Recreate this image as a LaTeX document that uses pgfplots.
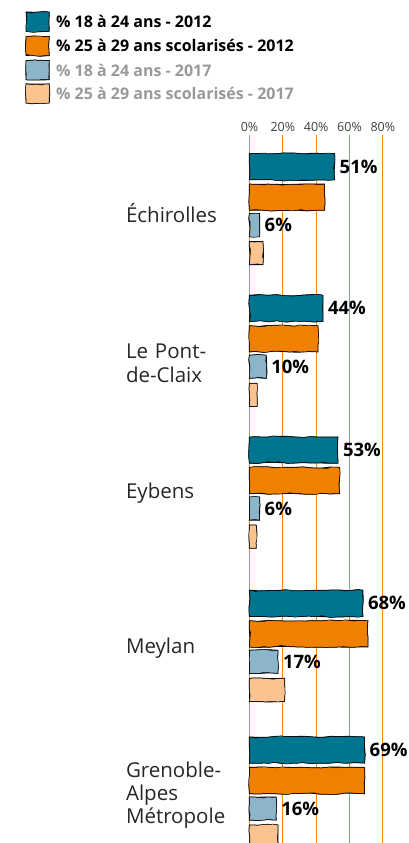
\documentclass[border=0pt]{standalone}
\usepackage{fontspec}
\setmainfont{Open Sans}
\usepackage{pgfplots}
\pgfplotsset{compat=1.18}
\usetikzlibrary{decorations.pathmorphing}

\definecolor{teal12}{HTML}{00758F}
\definecolor{orange12}{HTML}{F08000}
\definecolor{blue17}{HTML}{8DB5C9}
\definecolor{orange17}{HTML}{FBC48E}
\definecolor{gridor}{HTML}{F28A14}
\definecolor{legray}{HTML}{999999}

% hand-drawn look for the bars
\tikzset{
  sketch/.style={draw=black, line width=1pt,
    decoration={random steps, segment length=9pt, amplitude=0.7pt}, decorate,
    postaction={draw=black, line width=0.5pt, decorate,
      decoration={random steps, segment length=6pt, amplitude=0.9pt}}},
}

\begin{document}
\begin{tikzpicture}
\pgfmathsetseed{7}
\useasboundingbox (0,0) rectangle (408pt,-843pt);
\begin{axis}[
  at={(249.5pt,-135pt)}, anchor=north west,
  scale only axis, width=150pt, height=708pt,
  xmin=0, xmax=90, ymin=135, ymax=843, y dir=reverse,
  xbar, bar shift=0pt,
  clip=false,
  axis line style={draw=none}, tick style={draw=none},
  xmajorgrids, major grid style={gridor, line width=1.3pt},
  xtick={0,20,40,60,80}, xticklabels={0\%,20\%,40\%,60\%,80\%},
  xticklabel pos=upper,
  xticklabel style={font=\fontsize{12.5}{14}\selectfont, text=black!75},
  ytick={212.7,363.3,493,648,795},
  yticklabels={Échirolles, {Le Pont-\\de-Claix}, Eybens, Meylan, {Grenoble-\\Alpes\\Métropole}},
  yticklabel style={font=\fontsize{20.5}{23.3}\selectfont, align=left,
    text width=119pt, inner sep=0pt, anchor=east, text=black!85},
  every node near coord/.append style={anchor=west, xshift=3pt, inner sep=2pt,
    font=\bfseries\fontsize{18.5}{21}\selectfont, text=black},
  legend style={at={(axis description cs:-1.518,1.178)}, anchor=north west,
    draw=none, fill=none, row sep=3pt,
    font=\bfseries\fontsize{16}{19}\selectfont,
    /tikz/every odd column/.append style={column sep=4pt}},
  legend cell align=left,
  legend image code/.code={\draw[#1, line width=1pt] (0pt,-9pt) rectangle (23pt,10pt);},
]

% % 18 a 24 ans - 2012
\addplot[sketch, fill=teal12, bar width=26]
  coordinates {(51,166.7) (44,308.3) (53,450) (68,603.3) (69,750)};
\addlegendentry{\% 18 à 24 ans - 2012}

% % 25 a 29 ans scolarises - 2012
\addplot[sketch, fill=orange12, bar width=26]
  coordinates {(45,197.2) (41,338.8) (54,480.5) (71,633.8) (69,780.5)};
\addlegendentry{\% 25 à 29 ans scolarisés - 2012}

% % 18 a 24 ans - 2017
\addplot[sketch, fill=blue17, bar width=23]
  coordinates {(6,225.2) (10,366.8) (6,508.5) (17,661.8) (16,808.5)};
\addlegendentry{\textcolor{legray}{\% 18 à 24 ans - 2017}}

% % 25 a 29 ans scolarises - 2017
\addplot[sketch, fill=orange17, bar width=23]
  coordinates {(8,253.2) (4.5,394.8) (4,536.5) (21,689.8) (17,836.5)};
\addlegendentry{\textcolor{legray}{\% 25 à 29 ans scolarisés - 2017}}

% value labels (invisible bars carrying the labels)
\addplot[draw=none, fill=none, bar width=1, forget plot,
  nodes near coords, point meta=explicit symbolic]
  coordinates {(51,166.7) [51\%] (44,308.3) [44\%] (53,450) [53\%] (68,603.3) [68\%] (69,750) [69\%]
               (6,225.2) [6\%] (10,366.8) [10\%] (6,508.5) [6\%] (17,661.8) [17\%] (16,808.5) [16\%]};

\end{axis}
\end{tikzpicture}
\end{document}
